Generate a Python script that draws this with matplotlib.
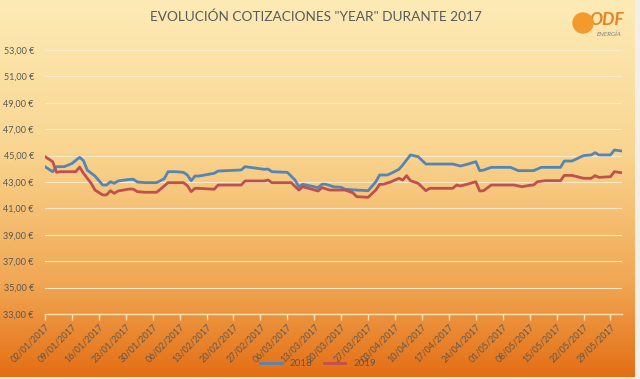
#Librerias necesarias
import numpy as np
import pandas as pd
import matplotlib
matplotlib.use('Agg')
import matplotlib.pyplot as plt
from matplotlib.colors import LinearSegmentedColormap
from matplotlib.patches import Circle

plt.rcParams['font.family'] = ['Lato', 'DejaVu Sans']

#Datos (dia/mes de 2017, precio en euros)
fechas_2018 = ['02/01', '04/01', '05/01', '07/01', '09/01', '11/01', '12/01', '13/01', '15/01', '17/01',
               '18/01', '19/01', '20/01', '21/01', '24/01', '25/01', '26/01', '28/01', '31/01', '01/02',
               '02/02', '03/02', '05/02', '07/02', '08/02', '09/02', '10/02', '11/02', '15/02', '16/02',
               '22/02', '23/02', '28/02', '01/03', '02/03', '06/03', '08/03', '09/03', '10/03', '14/03',
               '15/03', '16/03', '18/03', '20/03', '21/03', '24/03', '27/03', '29/03', '30/03', '01/04',
               '02/04', '04/04', '05/04', '06/04', '07/04', '09/04', '11/04', '18/04', '20/04', '22/04',
               '24/04', '25/04', '26/04', '28/04', '03/05', '05/05', '09/05', '11/05', '16/05', '17/05',
               '19/05', '22/05', '24/05', '25/05', '26/05', '29/05', '30/05', '01/06']
valores_2018 = [44.16, 43.78, 44.16, 44.16, 44.40, 44.87, 44.61, 43.90, 43.45, 42.77,
                42.77, 43.02, 42.90, 43.08, 43.20, 43.20, 43.00, 42.95, 42.95, 43.10,
                43.25, 43.78, 43.78, 43.73, 43.53, 43.10, 43.45, 43.45, 43.66, 43.83,
                43.91, 44.16, 43.96, 43.98, 43.78, 43.73, 43.15, 42.64, 42.83, 42.57,
                42.83, 42.83, 42.64, 42.60, 42.45, 42.39, 42.34, 43.02, 43.53, 43.53,
                43.66, 43.96, 44.29, 44.67, 45.05, 44.92, 44.36, 44.36, 44.21, 44.36,
                44.54, 43.86, 43.90, 44.11, 44.11, 43.86, 43.86, 44.11, 44.11, 44.59,
                44.59, 45.00, 45.05, 45.22, 45.05, 45.05, 45.42, 45.35]

fechas_2019 = ['02/01', '04/01', '05/01', '06/01', '10/01', '11/01', '12/01', '14/01', '15/01', '17/01',
               '18/01', '19/01', '20/01', '21/01', '24/01', '25/01', '26/01', '28/01', '31/01', '01/02',
               '03/02', '07/02', '08/02', '09/02', '10/02', '11/02', '15/02', '16/02', '22/02', '23/02',
               '28/02', '01/03', '02/03', '07/03', '09/03', '10/03', '14/03', '15/03', '17/03', '21/03',
               '23/03', '24/03', '27/03', '29/03', '30/03', '31/03', '02/04', '04/04', '05/04', '06/04',
               '07/04', '09/04', '11/04', '12/04', '18/04', '19/04', '20/04', '22/04', '24/04', '25/04',
               '26/04', '28/04', '04/05', '06/05', '08/05', '09/05', '10/05', '12/05', '16/05', '17/05',
               '19/05', '22/05', '24/05', '25/05', '26/05', '29/05', '30/05', '01/06']
valores_2019 = [44.92, 44.54, 43.73, 43.78, 43.78, 44.13, 43.66, 42.90, 42.39, 42.02,
                42.02, 42.34, 42.14, 42.32, 42.47, 42.45, 42.27, 42.22, 42.22, 42.45,
                42.95, 42.95, 42.72, 42.27, 42.52, 42.52, 42.45, 42.77, 42.77, 43.08,
                43.08, 43.15, 42.95, 42.95, 42.39, 42.64, 42.32, 42.57, 42.39, 42.39,
                42.19, 41.89, 41.84, 42.39, 42.83, 42.83, 43.02, 43.28, 43.15, 43.48,
                43.10, 42.90, 42.34, 42.52, 42.52, 42.77, 42.70, 42.85, 43.02, 42.32,
                42.34, 42.77, 42.77, 42.64, 42.75, 42.77, 43.02, 43.10, 43.10, 43.50,
                43.50, 43.28, 43.28, 43.48, 43.35, 43.40, 43.78, 43.70]

series = ['2018', '2019']
colores = ['#5585B5', '#C0504D']

def a_fecha(lista):
    return pd.to_datetime([f + '/2017' for f in lista], format='%d/%m/%Y')

fig = plt.figure(figsize=(6.4, 3.79), dpi=100)
fig.patch.set_facecolor('#F3EEE6')

#Fondo degradado amarillo -> naranja (area del grafico)
fondo = fig.add_axes([0, 0.006, 0.992, 0.994], zorder=-10)
cmap = LinearSegmentedColormap.from_list('fondo', [(0, '#FDEBB6'), (0.4, '#F9D590'),
                                                   (0.75, '#F1A753'), (1, '#E46E14')])
fondo.imshow(np.linspace(0, 1, 256).reshape(-1, 1), aspect='auto', cmap=cmap,
             extent=[0, 1, 0, 1])
fondo.axis('off')

ax = fig.add_axes([0.0703, 0.1715, 0.9016, 0.6966])
ax.patch.set_alpha(0)

ax.plot(a_fecha(fechas_2018), valores_2018, color=colores[0], linewidth=2.0, label=series[0])
ax.plot(a_fecha(fechas_2019), valores_2019, color=colores[1], linewidth=2.0, label=series[1])

ax.set_ylim(33, 53)
ax.set_yticks(np.arange(33, 54, 2))
ax.set_yticklabels([('%.2f' % v).replace('.', ',') + ' \u20ac' for v in np.arange(33, 54, 2)])
ax.grid(axis='y', color='#FBEAC8', linewidth=0.8)
ax.set_axisbelow(True)

ax.set_xlim(pd.Timestamp('2017-01-02'), pd.Timestamp('2017-06-01'))
ticks = pd.date_range('2017-01-02', '2017-05-29', freq='7D')
ax.set_xticks(ticks)
ax.set_xticklabels([t.strftime('%d/%m/%Y') for t in ticks], rotation=45, ha='right',
                   rotation_mode='anchor')

for s in ['top', 'right', 'left']:
    ax.spines[s].set_visible(False)
ax.spines['bottom'].set_color('#FBE3B5')
ax.spines['bottom'].set_linewidth(1.0)
ax.tick_params(axis='x', colors='#FBE3B5', length=4, width=1.0, labelsize=6.5,
               labelcolor='#595959', pad=2)
ax.tick_params(axis='y', length=0, labelsize=6.5, labelcolor='#595959', pad=8)

fig.text(0.494, 0.955, 'EVOLUCI\u00d3N COTIZACIONES "YEAR" DURANTE 2017', ha='center', va='center',
         fontsize=9.8, color='#595959')

#Logo ODF
fig.patches.append(Circle((583, 379 - 23), 10, transform=None, color='#F29A2E', zorder=5))
fig.text(589 / 640, 1 - 20 / 379, 'ODF', ha='left', va='center', fontsize=12.5, fontweight='bold',
         style='italic', color='#E8821E')
fig.text(621 / 640, 1 - 34 / 379, 'ENERG\u00cdA', ha='right', va='center', fontsize=4.5,
         style='italic', color='#7F7F7F')

fig.legend(loc='center', bbox_to_anchor=(0.497, 0.04), ncol=2, frameon=False, fontsize=7,
           handlelength=2.2, labelcolor='#595959', columnspacing=1.2)

plt.savefig('out.png', dpi=100)
